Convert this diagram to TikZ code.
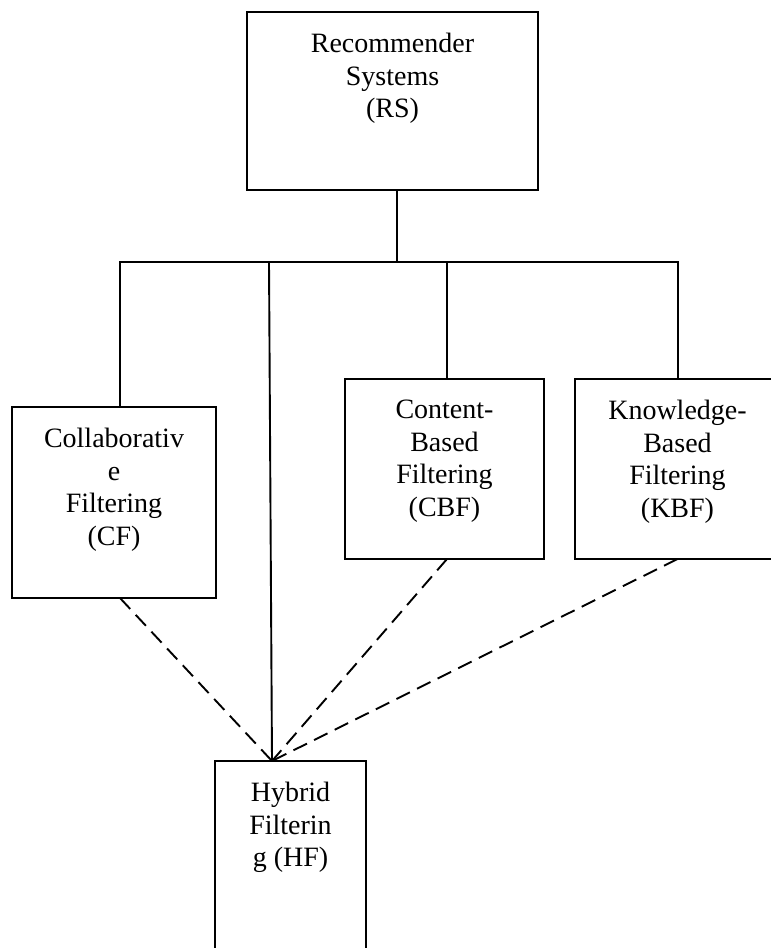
\documentclass[tikz,border=0pt]{standalone}
\usepackage{fontspec}
\setmainfont{Liberation Serif}
\begin{document}
\begin{tikzpicture}[x=1pt,y=-1pt]
\tikzset{
  box/.style={draw=black, line width=1.9pt, rectangle, inner sep=0pt, outer sep=0pt, fill=none},
  lbl/.style={font=\fontsize{28}{32.6}\selectfont, align=center, anchor=north, inner sep=0pt},
  link/.style={draw=black, line width=1.9pt},
  hybrid/.style={draw=black, line width=1.9pt, dash pattern=on 15pt off 8pt}
}
\useasboundingbox (0,0) rectangle (771,948);
\clip (0,0) rectangle (771,948);

% boxes
\node[box, minimum width=291pt, minimum height=178pt] (rs)  at (392.5,101)   {};
\node[box, minimum width=204pt, minimum height=191pt] (cf)  at (114,502.5)   {};
\node[box, minimum width=199pt, minimum height=180pt] (cbf) at (444.5,469)   {};
\node[box, minimum width=205pt, minimum height=180pt] (kbf) at (677.5,469)   {};
\node[box, minimum width=151pt, minimum height=209pt] (hf)  at (290.5,865.5) {};

% labels, hung from the top edge of each box
\node[lbl] (rs-t)  at ([yshift=-21pt]rs.north)  {Recommender\\Systems\\(RS)};
\node[lbl] (cf-t)  at ([yshift=-21pt]cf.north)  {Collaborativ\\e\\Filtering\\(CF)};
\node[lbl] (cbf-t) at ([yshift=-21pt]cbf.north) {Content-\\Based\\Filtering\\(CBF)};
\node[lbl] (kbf-t) at ([yshift=-21pt]kbf.north) {Knowledge-\\Based\\Filtering\\(KBF)};
\node[lbl] (hf-t)  at ([yshift=-21pt]hf.north)  {Hybrid\\Filterin\\g (HF)};

% bus and branch points
\coordinate (bus-l) at (120,262);
\coordinate (bus-r) at (678,262);
\coordinate (drop)  at (269,262);
\coordinate (hub)   at (272,761);

% tree connectors
\draw[link] ([xshift=4.5pt]rs.south) -- ([xshift=4.5pt]rs.south |- bus-l);
\draw[link] (bus-l |- cf.north) -- (bus-l) -- (bus-r) -- (bus-r |- kbf.north);
\draw[link] ([xshift=2.5pt]cbf.north) -- ([xshift=2.5pt]cbf.north |- bus-l);
\draw[link] (drop) -- (hub);

% hybrid combinations
\draw[hybrid] ([xshift=6pt]cf.south) -- (hub);
\draw[hybrid] ([xshift=2.5pt]cbf.south) -- (hub);
\draw[hybrid] (kbf.south) -- (hub);
\end{tikzpicture}
\end{document}
